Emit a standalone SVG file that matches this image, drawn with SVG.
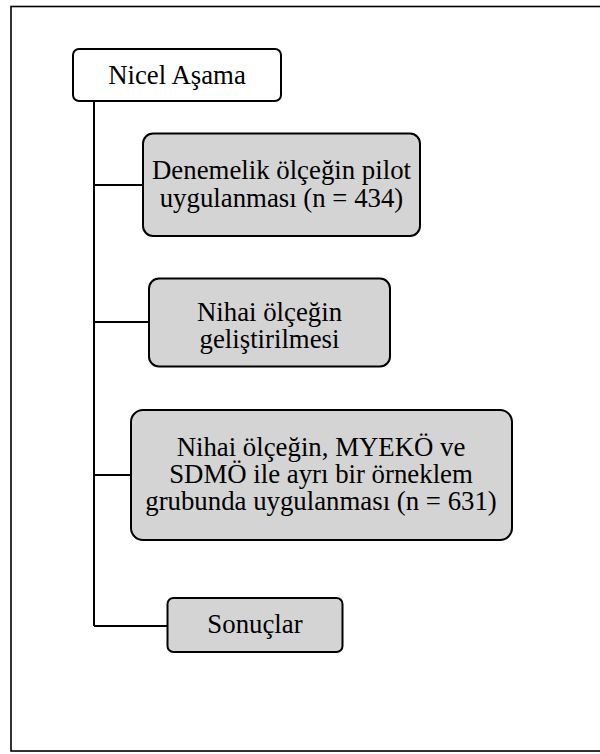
<svg xmlns="http://www.w3.org/2000/svg" width="600" height="754" viewBox="0 0 600 754">
  <style>
    .frame { fill: #ffffff; stroke: #000000; stroke-width: 1.6; }
    .head { fill: #ffffff; stroke: #000000; stroke-width: 2; }
    .step { fill: #d4d4d4; stroke: #000000; stroke-width: 2; }
    .link { fill: none; stroke: #000000; stroke-width: 2; }
    text { font-family: "Liberation Serif", "Times New Roman", serif; font-size: 26.8px; fill: #000000; text-anchor: middle; }
  </style>

  <!-- outer border (right edge runs past the canvas) -->
  <rect class="frame" x="11" y="6.5" width="600" height="744.5"/>

  <!-- connectors: trunk from the header plus one branch per step -->
  <g id="connectors">
    <path class="link" d="M94 101 V626"/>
    <path class="link" d="M94 185 H143"/>
    <path class="link" d="M94 322 H149"/>
    <path class="link" d="M94 475 H131"/>
    <path class="link" d="M94 626 H167"/>
  </g>

  <g id="nicel-asama">
    <rect class="head" x="73" y="49" width="208" height="52" rx="6"/>
    <text x="177" y="84">Nicel Aşama</text>
  </g>

  <g id="pilot">
    <rect class="step" x="143" y="133.5" width="277" height="102.5" rx="10"/>
    <text x="281.5" y="179">Denemelik ölçeğin pilot</text>
    <text x="281.5" y="207">uygulanması (n = 434)</text>
  </g>

  <g id="nihai-gelistirme">
    <rect class="step" x="149" y="278.5" width="241" height="88" rx="10"/>
    <text x="269.5" y="321">Nihai ölçeğin</text>
    <text x="269.5" y="348">geliştirilmesi</text>
  </g>

  <g id="nihai-uygulama">
    <rect class="step" x="131" y="410" width="381" height="130" rx="12"/>
    <text x="321" y="456">Nihai ölçeğin, MYEKÖ ve</text>
    <text x="321" y="483">SDMÖ ile ayrı bir örneklem</text>
    <text x="321" y="510">grubunda uygulanması (n = 631)</text>
  </g>

  <g id="sonuclar">
    <rect class="step" x="167.5" y="598" width="175" height="54" rx="6"/>
    <text x="255" y="633">Sonuçlar</text>
  </g>
</svg>
